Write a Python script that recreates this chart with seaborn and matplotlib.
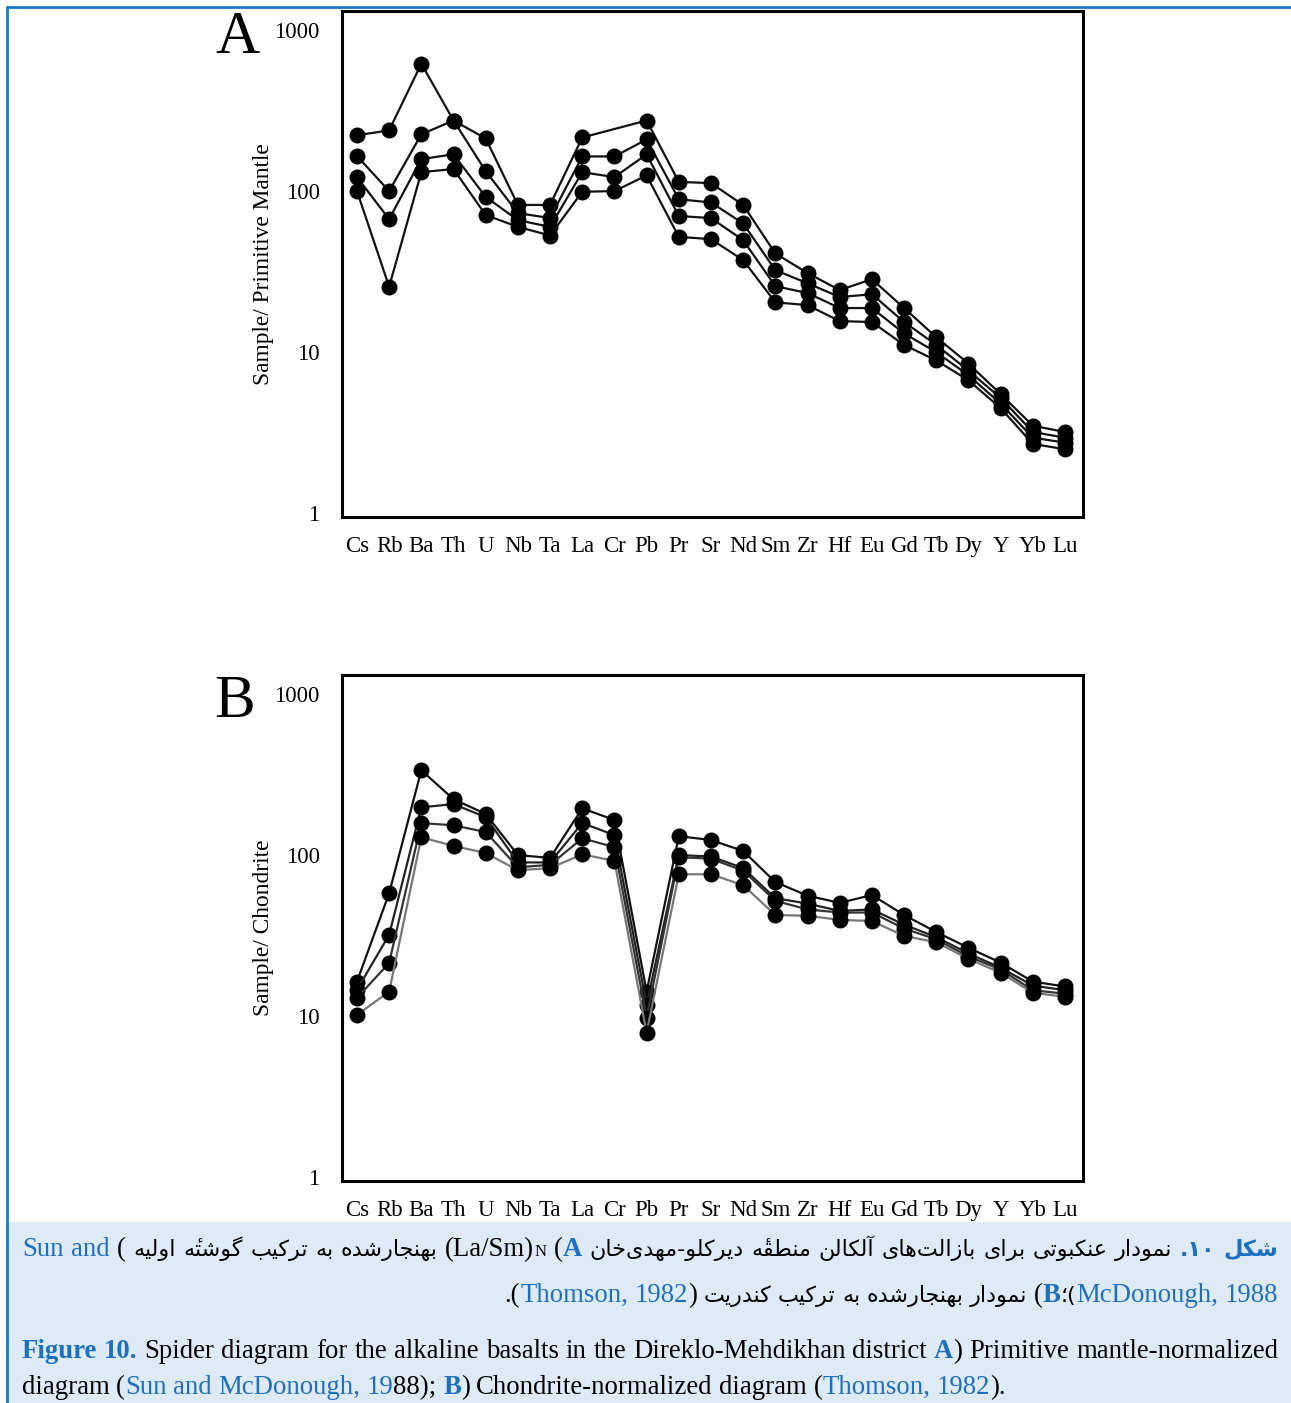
import matplotlib
matplotlib.use('Agg')
import matplotlib.pyplot as plt
from matplotlib.lines import Line2D
from matplotlib.patches import Rectangle
from matplotlib.ticker import NullLocator
import numpy as np
import pandas as pd
import seaborn as sns

W, H = 1291, 1403

elements = ['Cs', 'Rb', 'Ba', 'Th', 'U', 'Nb', 'Ta', 'La', 'Cr', 'Pb', 'Pr', 'Sr',
            'Nd', 'Sm', 'Zr', 'Hf', 'Eu', 'Gd', 'Tb', 'Dy', 'Y', 'Yb', 'Lu']

# A) primitive mantle-normalized (one sample has no Cr)
pm_s1 = [222, 238, 617, 274, 212, 82, 82, 215, np.nan, 274, 114, 112, 82, 41, 31, 24.3, 28.4, 18.8, 12.4, 8.5, 5.5, 3.5, 3.2]
pm_s2 = [165, 100, 225, 274, 133, 73, 68, 164, 164, 209, 89, 85, 63, 32.3, 26.8, 22, 22.9, 15.4, 11.1, 7.7, 5.2, 3.2, 2.95]
pm_s3 = [122, 67, 158, 169, 92, 66, 60, 131, 122, 169, 70, 68, 49.6, 25.7, 23.3, 18.8, 18.8, 13.1, 10, 7.2, 4.8, 2.95, 2.75]
pm_s4 = [100, 25.5, 131, 137, 71, 60, 53, 99, 100, 125, 52, 50.3, 37.3, 20.4, 19.6, 15.6, 15.4, 11.1, 8.9, 6.7, 4.5, 2.7, 2.5]

# B) chondrite-normalized
ch_s1 = [16.4, 58, 336, 222, 180, 100, 96, 195, 165, 14.2, 131, 124, 106, 68, 56, 50.5, 56.5, 42.5, 33.3, 26.6, 21.5, 16.4, 15.3]
ch_s2 = [14.6, 32, 198, 207, 172, 90, 90, 158, 133, 11.8, 100, 98, 83, 54, 50, 45, 46, 37, 31, 24.5, 20, 15.5, 14.5]
ch_s3 = [13.0, 21.4, 158, 153, 139, 84, 87, 127, 112, 9.8, 97, 95, 80, 52, 46, 44, 44, 35, 30, 23.5, 19.5, 14.5, 13.8]
ch_s4 = [10.2, 14.2, 129, 114, 103, 80.5, 83, 101, 92, 7.9, 76, 76, 65, 42.5, 42, 39.6, 39, 31.5, 28.8, 22.7, 18.6, 14.0, 13.2]

y_ticks = [1, 10, 100, 1000]
y_ticklabels = ['1', '10', '100', '1000']

SERIF = 'Liberation Serif'
BLUE = '#1f6fc1'

sns.set_theme(style='white')
plt.rcParams['font.family'] = [SERIF, 'DejaVu Sans']
plt.rcParams['text.color'] = 'black'
plt.rcParams['axes.labelcolor'] = 'black'
plt.rcParams['axes.edgecolor'] = 'black'


def long_form(series):
    rows = []
    for name, vals in series.items():
        for i, v in enumerate(vals):
            if not np.isnan(v):
                rows.append((name, i, v))
    return pd.DataFrame(rows, columns=['sample', 'pos', 'value'])


def spider(ax, series, colors, ylabel):
    df = long_form(series)
    sns.lineplot(data=df, x='pos', y='value', hue='sample', palette=colors,
                 estimator=None, sort=False, legend=False, ax=ax,
                 marker='o', markersize=11.5, markeredgewidth=0, linewidth=1.6)
    for ln in ax.lines:
        ln.set_markerfacecolor('black')
    ax.set_yscale('log')
    ax.set_ylim(0.95, 1310)
    ax.set_xlim(-0.465, 22.56)
    ax.set_yticks(y_ticks)
    ax.set_yticklabels(y_ticklabels)
    ax.yaxis.set_minor_locator(NullLocator())
    ax.set_xticks(range(len(elements)))
    ax.set_xticklabels(elements)
    ax.tick_params(axis='both', direction='out', length=6, width=1.1,
                   labelsize=16.5, colors='black')
    ax.tick_params(axis='y', pad=10)
    ax.tick_params(axis='x', pad=8)
    ax.set_xlabel('')
    ax.set_ylabel(ylabel, fontsize=16.8, labelpad=0)
    for s in ax.spines.values():
        s.set_visible(True)
        s.set_linewidth(2.2)


fig = plt.figure(figsize=(W / 100, H / 100), dpi=100)
fig.patch.set_facecolor('white')

axA = fig.add_axes([342 / W, 1 - 517 / H, 741 / W, 506 / H])
axB = fig.add_axes([342 / W, 1 - 1181 / H, 741 / W, 506 / H])

spider(axA, {'s1': pm_s1, 's2': pm_s2, 's3': pm_s3, 's4': pm_s4},
       ['#111111', '#111111', '#111111', '#111111'], 'Sample/ Primitive Mantle')
spider(axB, {'s1': ch_s1, 's2': ch_s2, 's3': ch_s3, 's4': ch_s4},
       ['#111111', '#222222', '#333333', '#777777'], 'Sample/ Chondrite')

fig.text(237 / W, 1 - 38 / H, 'A', fontsize=44, ha='center', va='center', family=SERIF)
fig.text(235 / W, 1 - 702 / H, 'B', fontsize=44, ha='center', va='center', family=SERIF)

# caption box and page frame
fig.add_artist(Rectangle((8 / W, 0), (W - 8) / W, (H - 1222) / H, transform=fig.transFigure,
                         facecolor='#deeaf6', edgecolor='none', zorder=0))
fig.add_artist(Line2D([7 / W, 7 / W], [0, 1 - 7 / H], transform=fig.transFigure,
                      color='#1e78c8', lw=2))
fig.add_artist(Line2D([7 / W, 1], [1 - 7 / H, 1 - 7 / H], transform=fig.transFigure,
                      color='#1e78c8', lw=2))

# ---- minimal Persian shaping (matplotlib has no complex text layout) ----
DUAL = {0x0628: 0xFE8F, 0x062A: 0xFE95, 0x062B: 0xFE99, 0x062C: 0xFE9D, 0x062D: 0xFEA1,
        0x062E: 0xFEA5, 0x0633: 0xFEB1, 0x0634: 0xFEB5, 0x0635: 0xFEB9, 0x0636: 0xFEBD,
        0x0637: 0xFEC1, 0x0638: 0xFEC5, 0x0639: 0xFEC9, 0x063A: 0xFECD, 0x0641: 0xFED1,
        0x0642: 0xFED5, 0x0644: 0xFEDD, 0x0645: 0xFEE1, 0x0646: 0xFEE5, 0x0647: 0xFEE9,
        0x0626: 0xFE89, 0x067E: 0xFB56, 0x0686: 0xFB7A, 0x06A9: 0xFB8E, 0x06AF: 0xFB92,
        0x06CC: 0xFBFC}
RIGHT = {0x0627: 0xFE8D, 0x0622: 0xFE81, 0x062F: 0xFEA9, 0x0630: 0xFEAB, 0x0631: 0xFEAD,
         0x0632: 0xFEAF, 0x0698: 0xFB8A, 0x0648: 0xFEED}
MARKS = {0x0654}


def shape(word):
    cs = [ord(c) for c in word]
    letters = [i for i, c in enumerate(cs) if c not in MARKS]
    clusters = []
    for k, i in enumerate(letters):
        c = cs[i]
        prev = cs[letters[k - 1]] if k > 0 else None
        nxt = cs[letters[k + 1]] if k + 1 < len(letters) else None
        if c in DUAL or c in RIGHT:
            jp = prev in DUAL
            jn = c in DUAL and (nxt in DUAL or nxt in RIGHT)
            f = 3 if (jp and jn) else 1 if jp else 2 if jn else 0
            g = chr(DUAL.get(c, RIGHT.get(c)) + f)
        elif c == 0x200C:
            g = ''
        else:
            g = chr(c)
        j = i + 1
        while j < len(cs) and cs[j] in MARKS:
            g += chr(cs[j])
            j += 1
        clusters.append(g)
    return ''.join(reversed(clusters))


def fa_words(s):
    return [shape(w) for w in reversed(s.split(' '))]


def lay(tokens, base_y, left=None, right=None, justify=False, sp=6.5):
    r = fig.canvas.get_renderer()
    items = []
    for txt, kw, gap in tokens:
        t = fig.text(0, 1 - base_y / H, txt, va='baseline', ha='left', **kw)
        items.append((t, t.get_window_extent(r).width, gap))
    ngap = sum(g for _, _, g in items[1:])
    total = sum(w for _, w, _ in items) + sp * ngap
    extra = (right - left - total) / ngap if (justify and ngap) else 0
    x = left if left is not None else right - total
    for i, (t, w, g) in enumerate(items):
        if i:
            x += g * (sp + extra)
        t.set_x(x / W)
        x += w


FA = dict(family='DejaVu Sans', fontsize=16, color='black')
FAB = dict(family='DejaVu Sans', fontsize=16, color=BLUE, weight='bold')
LT = dict(family=SERIF, fontsize=19.3, color='black')
LTB = dict(family=SERIF, fontsize=19.3, color=BLUE)
LTBB = dict(family=SERIF, fontsize=19.3, color=BLUE, weight='bold')


def toks(words, kw, first_gap=1):
    return [(w, kw, first_gap if i == 0 else 1) for i, w in enumerate(words)]


line1 = (toks(['Sun', 'and'], LTB, 0) + [('(', LT, 1)]
         + toks(fa_words('بهنجارشده به ترکیب گوشتهٔ اولیه'), FA)
         + [('(La/Sm)', LT, 1), ('N', dict(LT, fontsize=12), 0), ('(', LT, 1), ('A', LTBB, 0)]
         + toks(fa_words('نمودار عنکبوتی برای بازالت‌های آلکالن منطقهٔ دیرکلو-مهدی‌خان'), FA)
         + [('.۱۰', FAB, 1), (shape('شکل'), FAB, 1)])
lay(line1, 1256, left=22, right=1278, justify=True)

line2 = ([('.(', LT, 0), ('Thomson,', LTB, 0), ('1982', LTB, 1), (')', LT, 0)]
         + toks(fa_words('نمودار بهنجارشده به ترکیب کندریت'), FA)
         + [('(', LT, 1), ('B', LTBB, 0), ('؛(', FA, 0), ('McDonough,', LTB, 0), ('1988', LTB, 1)])
lay(line2, 1302, right=1278)

eng1 = ([('Figure', LTBB, 0), ('10.', LTBB, 1)]
        + toks('Spider diagram for the alkaline basalts in the Direklo-Mehdikhan district'.split(), LT)
        + [('A', LTBB, 1), (')', LT, 0)] + toks('Primitive mantle-normalized'.split(), LT))
lay(eng1, 1358, left=22, right=1278, justify=True)

eng2 = ([('diagram', LT, 0), ('(', LT, 1), ('Sun', LTB, 0), ('and', LTB, 1), ('McDonough,', LTB, 1),
         ('19', LTB, 1), ('88);', LT, 0), ('B', LTBB, 1), (')', LT, 0)]
        + toks('Chondrite-normalized diagram'.split(), LT)
        + [('(', LT, 1), ('Thomson,', LTB, 0), ('1982', LTB, 1), (').', LT, 0)])
lay(eng2, 1394, left=22)

fig.savefig('out.png', dpi=100)
